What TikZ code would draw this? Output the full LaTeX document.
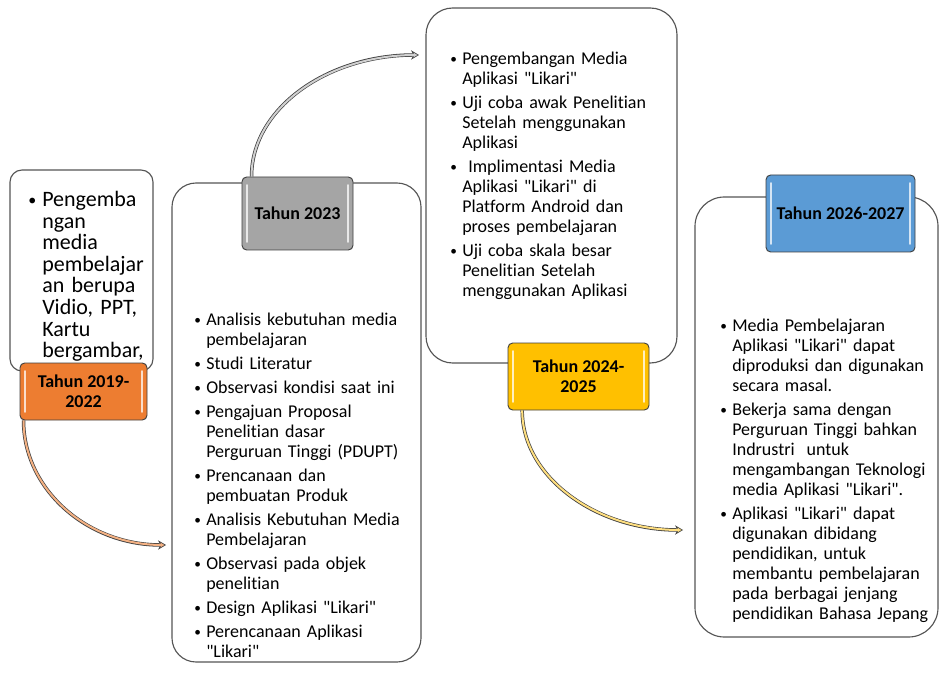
\documentclass[tikz,border=0pt]{standalone}
\usepackage{fontspec}
\setmainfont{Carlito}[Ligatures=NoCommon]
\usetikzlibrary{arrows.meta,fit}
\definecolor{corange}{HTML}{ED7D31}
\definecolor{cgray}{HTML}{A5A5A5}
\definecolor{cyellow}{HTML}{FFC000}
\definecolor{cblue}{HTML}{5B9BD5}
\definecolor{aorange}{HTML}{F4B183}
\definecolor{agray}{HTML}{D0D0D0}
\definecolor{ayellow}{HTML}{FFDF80}
\definecolor{boxline}{HTML}{555555}
\definecolor{darkline}{HTML}{404040}
\newcommand{\qq}{\textquotedbl}
\newcommand{\bul}{\raisebox{0.6pt}{\fontsize{10}{10}\selectfont\textbullet}}
\newcommand{\bitem}[1]{\hangindent=9pt\hangafter=1\noindent\hbox to 9pt{\bul\hfil}#1\par\vspace{3pt}}
\newcommand{\litem}[1]{\hangindent=10.5pt\hangafter=1\noindent\hbox to 10.5pt{\raisebox{0.8pt}{\fontsize{12}{12}\selectfont\textbullet}\hfil}#1\par}
\begin{document}
\begin{tikzpicture}[x=0.75pt,y=-0.75pt,
  cbox/.style={draw=boxline,line width=0.85pt,fill=white,inner sep=0pt},
  lbl/.style={draw=darkline,line width=0.7pt,rounded corners=3.5pt,inner sep=0pt,
    path picture={
      \draw[white,opacity=0.75,line width=1.3pt,line cap=round]
        ([xshift=3.5pt,yshift=-6pt]path picture bounding box.north west) --
        ([xshift=3.5pt,yshift=6pt]path picture bounding box.south west);
      \draw[white,opacity=0.75,line width=1.3pt,line cap=round]
        ([xshift=-3.5pt,yshift=-6pt]path picture bounding box.north east) --
        ([xshift=-3.5pt,yshift=6pt]path picture bounding box.south east);}},
  lbltxt/.style={inner sep=0pt,font=\fontsize{13.5}{15}\selectfont\bfseries,align=center},
  txt/.style={anchor=north west,inner sep=0pt,align=left,
    font=\fontsize{13.5}{15}\selectfont},
  arr/.style={draw=darkline,line width=2.6pt,
    -{Stealth[length=6pt,width=7pt,line width=0.5pt,fill=#1]},
    postaction={draw=#1,line width=1.5pt,-,shorten >=3pt}}
]
\useasboundingbox (0,0) rectangle (941,673);

% content boxes
\node[cbox,rounded corners=9pt,fit={(10,170) (153,371)}] (b1) {};
\node[cbox,rounded corners=18pt,fit={(172,183) (421,662)}] (b2) {};
\node[cbox,rounded corners=20pt,fit={(426,8) (677,363)}] (b3) {};
\node[cbox,rounded corners=22pt,fit={(695,197) (938,637)}] (b4) {};

% texts
\node[txt,text width=110pt,font=\fontsize{16.5}{16.2}\selectfont] (t1) at (28,191) {%
\litem{Pengemba\newline ngan\newline media\newline pembelajar\newline an berupa\newline Vidio, PPT,\newline Kartu\newline bergambar,}};

\node[txt,text width=170pt] (t2) at (194,313) {%
\bitem{Analisis kebutuhan media\newline pembelajaran}
\bitem{Studi Literatur}
\bitem{Observasi kondisi saat ini}
\bitem{Pengajuan Proposal\newline Penelitian dasar\newline Perguruan Tinggi (PDUPT)}
\bitem{Prencanaan dan\newline pembuatan Produk}
\bitem{Analisis Kebutuhan Media\newline Pembelajaran}
\bitem{Observasi pada objek\newline penelitian}
\bitem{Design Aplikasi \qq{}Likari\qq{}}
\bitem{Perencanaan Aplikasi\newline \qq{}Likari\qq{}}};

\node[txt,text width=170pt] (t3) at (450,52) {%
\bitem{Pengembangan Media\newline Aplikasi \qq{}Likari\qq{}}
\bitem{Uji coba awak Penelitian\newline Setelah menggunakan\newline Aplikasi}
\bitem{\ Implimentasi Media\newline Aplikasi \qq{}Likari\qq{} di\newline Platform Android dan\newline proses pembelajaran}
\bitem{Uji coba skala besar\newline Penelitian Setelah\newline menggunakan Aplikasi}};

\node[txt,text width=175pt] (t4) at (720,319) {%
\bitem{Media Pembelajaran\newline Aplikasi \qq{}Likari\qq{} dapat\newline diproduksi dan digunakan\newline secara masal.}
\bitem{Bekerja sama dengan\newline Perguruan Tinggi bahkan\newline Indrustri\ \ untuk\newline mengambangan Teknologi\newline media Aplikasi \qq{}Likari\qq{}.}
\bitem{Aplikasi \qq{}Likari\qq{} dapat\newline digunakan dibidang\newline pendidikan, untuk\newline membantu pembelajaran\newline pada berbagai jenjang\newline pendidikan Bahasa Jepang}};

% labels
\node[lbl,fill=corange,fit={(20,363) (147,420)}] (l1) {};
\node[lbl,fill=cgray,fit={(242,177) (353,250)}] (l2) {};
\node[lbl,fill=cyellow,fit={(508,343) (649,410)}] (l3) {};
\node[lbl,fill=cblue,fit={(766,175) (915,252)}] (l4) {};
\node[lbltxt] (l1t) at (l1.center) {Tahun 2019-\\2022};
\node[lbltxt] (l2t) at (l2.center) {Tahun 2023};
\node[lbltxt] (l3t) at (l3.center) {Tahun 2024-\\2025};
\node[lbltxt] (l4t) at (l4.center) {Tahun 2026-2027};

% arrow ends
\coordinate (e1) at (166,545);
\coordinate (e2) at (419,55);
\coordinate (e3) at (683,530);

\draw[arr=aorange] ([xshift=3pt]l1.south west) .. controls +(0,68) and +(-80,0) .. (e1);
\draw[arr=agray] ([xshift=7.5pt]l2.north west) .. controls +(0,-68) and +(-92,0) .. (e2);
\draw[arr=ayellow] ([xshift=11pt]l3.south west) .. controls +(0,66) and +(-88,0) .. (e3);
\end{tikzpicture}
\end{document}
